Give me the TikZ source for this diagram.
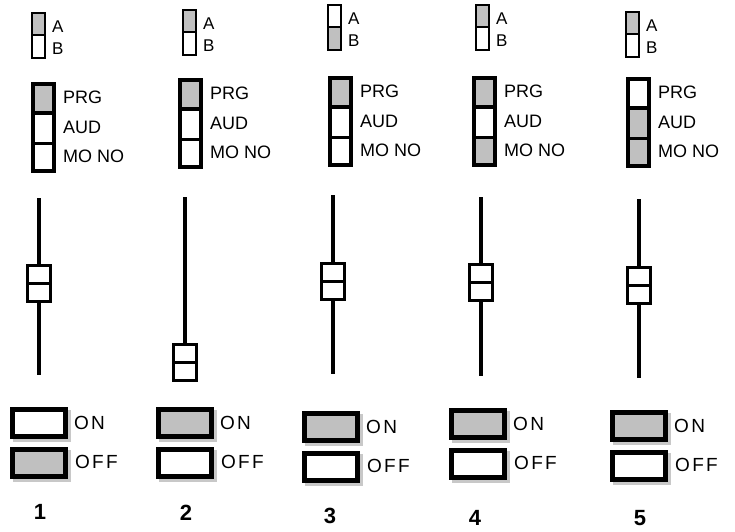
\documentclass[tikz,border=0pt]{standalone}
\usepackage{fontspec}
\setmainfont{Liberation Sans}
\definecolor{sel}{RGB}{192,192,192}
\definecolor{shad}{RGB}{200,200,200}
\tikzset{
  lab/.style={font=\fontsize{18}{18}\selectfont, anchor=west, inner sep=0pt},
  ablab/.style={font=\fontsize{17}{17}\selectfont, anchor=west, inner sep=0pt},
  swlab/.style={font=\fontsize{19}{19}\selectfont\addfontfeature{LetterSpace=12}, anchor=west, inner sep=0pt},
  num/.style={font=\fontsize{22}{22}\selectfont\bfseries, inner sep=0pt},
  thinbox/.style={line width=1.7pt},
  prgframe/.style={line width=4pt},
  rail/.style={line width=4pt},
  knob/.style={line width=2.7pt, fill=white},
  swframe/.style={line width=5pt},
}
% A/B selector: id, x, y, fillA, fillB
\newcommand\abpair[5]{%
  \fill[#4] (#2,#3) rectangle ++(13,22);
  \fill[#5] (#2,#3+22) rectangle ++(13,23);
  \draw[thinbox] (#2,#3) rectangle ++(13,45) (#2,#3+22) -- ++(13,0);
  \node[ablab] (a#1) at (#2+20,#3+14) {A};
  \node[ablab] (b#1) at (#2+20,#3+36) {B};
}
% PRG/AUD/MONO selector: id, x, y, fill1, fill2, fill3
\newcommand\prgbox[6]{%
  \fill[#4] (#2,#3) rectangle ++(25,31);
  \fill[#5] (#2,#3+31) rectangle ++(25,30);
  \fill[#6] (#2,#3+61) rectangle ++(25,30);
  \draw[prgframe] (#2+2,#3+2) rectangle (#2+23,#3+89);
  \draw[line width=4pt] (#2,#3+31) -- ++(25,0);
  \draw[line width=3pt] (#2,#3+61) -- ++(25,0);
  \node[lab] (prg#1) at (#2+32,#3+15) {PRG};
  \node[lab] (aud#1) at (#2+32,#3+45) {AUD};
  \node[lab] (mono#1) at (#2+32,#3+74) {MO NO};
}
% fader: id, x, rail top, rail bottom, knob top
\newcommand\fader[5]{%
  \draw[rail] (#2,#3) -- (#2,#4);
  \draw[knob] (#2-11.5,#5+1.3) rectangle (#2+11.5,#5+37.7);
  \draw[line width=2.7pt] (#2-11.5,#5+19.5) -- (#2+11.5,#5+19.5);
}
% ON/OFF switch: id, x, y, fillON, fillOFF
\newcommand\onoff[5]{%
  \fill[shad] (#2+3,#3+3) rectangle ++(58,32);
  \draw[swframe, fill=#4] (#2+2.5,#3+2.5) rectangle (#2+55.5,#3+29.5);
  \fill[shad] (#2+3,#3+43) rectangle ++(58,32);
  \draw[swframe, fill=#5] (#2+2.5,#3+42.5) rectangle (#2+55.5,#3+69.5);
  \node[swlab] (on#1) at (#2+64,#3+16) {ON};
  \node[swlab] (off#1) at (#2+65,#3+55) {OFF};
}
\begin{document}
\begin{tikzpicture}[x=1pt,y=-1pt]
\useasboundingbox (0,0) rectangle (735,531);
% column 1
\abpair{1}{32}{13}{sel}{white}
\prgbox{1}{31}{82}{sel}{white}{white}
\fader{1}{39}{198}{375}{264}
\onoff{1}{10}{407}{white}{sel}
\node[num] (n1) at (40,512) {1};
% column 2
\abpair{2}{183}{10}{sel}{white}
\prgbox{2}{178}{78}{sel}{white}{white}
\fader{2}{185}{197}{345}{343}
\onoff{2}{156}{407}{sel}{white}
\node[num] (n2) at (186,513) {2};
% column 3
\abpair{3}{328}{5}{white}{sel}
\prgbox{3}{328}{76}{sel}{white}{white}
\fader{3}{333}{195}{374}{262}
\onoff{3}{302}{411}{sel}{white}
\node[num] (n3) at (330,516) {3};
% column 4
\abpair{4}{476}{5}{sel}{white}
\prgbox{4}{472}{76}{sel}{white}{sel}
\fader{4}{481}{197}{376}{263}
\onoff{4}{449}{408}{sel}{white}
\node[num] (n4) at (475,518) {4};
% column 5
\abpair{5}{626}{12}{sel}{white}
\prgbox{5}{626}{77}{white}{sel}{sel}
\fader{5}{639}{199}{378}{266}
\onoff{5}{610}{410}{sel}{white}
\node[num] (n5) at (640,518) {5};
\end{tikzpicture}
\end{document}
